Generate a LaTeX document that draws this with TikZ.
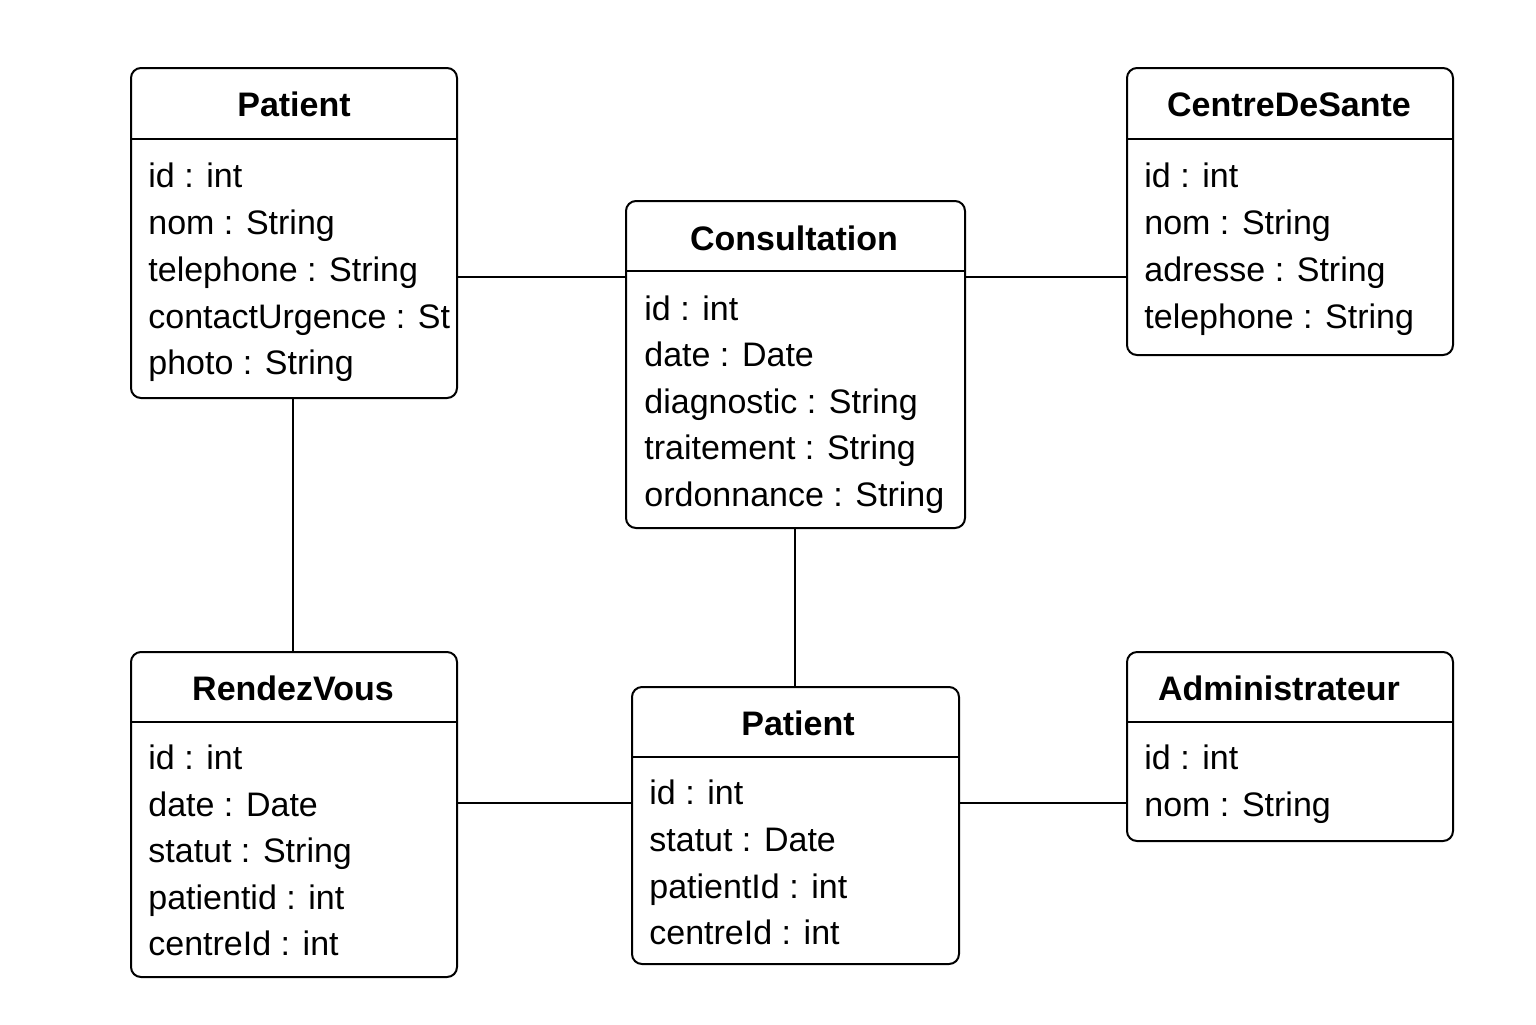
\documentclass[tikz,border=0pt]{standalone}
\usepackage{fontspec}
\setmainfont{Liberation Sans}
\begin{document}
\begin{tikzpicture}[x=0.5pt,y=-0.5pt,
  box/.style={draw, line width=1pt, rounded corners=5pt, inner sep=0pt, anchor=north west},
  divider/.style={line width=1pt},
  conn/.style={line width=1pt},
  ttl/.style={font=\fontsize{17}{19}\selectfont\bfseries, anchor=base, inner sep=0pt},
  attr/.style={font=\fontsize{17}{19}\selectfont, anchor=base west, inner sep=0pt}]
\useasboundingbox (0,0) rectangle (1536,1024);

% Patient (top-left)
\node[box, minimum width=163pt, minimum height=165pt] (pat) at (130,67) {};
\draw[divider] (130,139) -- (456,139);
\node[ttl] (patT) at (294,116) {Patient};
\node[attr] (pat1) at (148,187) {id : int};
\node[attr] (pat2) at (148,234) {nom : String};
\node[attr] (pat3) at (148,281) {telephone : String};
\node[attr] (pat4) at (148,328) {contactUrgence : St};
\node[attr] (pat5) at (148,374) {photo : String};

% CentreDeSante
\node[box, minimum width=163pt, minimum height=143.5pt] (cds) at (1126,67) {};
\draw[divider] (1126,139) -- (1452,139);
\node[ttl] (cdsT) at (1289,116) {CentreDeSante};
\node[attr] (cds1) at (1144,187) {id : int};
\node[attr] (cds2) at (1144,234) {nom : String};
\node[attr] (cds3) at (1144,281) {adresse : String};
\node[attr] (cds4) at (1144,328) {telephone : String};

% Consultation
\node[box, minimum width=169.5pt, minimum height=163.5pt] (con) at (625,200) {};
\draw[divider] (625,271) -- (964,271);
\node[ttl] (conT) at (794,250) {Consultation};
\node[attr] (con1) at (644,320) {id : int};
\node[attr] (con2) at (644,366) {date : Date};
\node[attr] (con3) at (644,413) {diagnostic : String};
\node[attr] (con4) at (644,459) {traitement : String};
\node[attr] (con5) at (644,506) {ordonnance : String};

% RendezVous
\node[box, minimum width=163pt, minimum height=162.5pt] (rdv) at (130,651) {};
\draw[divider] (130,722) -- (456,722);
\node[ttl] (rdvT) at (293,700) {RendezVous};
\node[attr] (rdv1) at (148,769) {id : int};
\node[attr] (rdv2) at (148,816) {date : Date};
\node[attr] (rdv3) at (148,862) {statut : String};
\node[attr] (rdv4) at (148,909) {patientid : int};
\node[attr] (rdv5) at (148,955) {centreId : int};

% Patient (bottom-middle)
\node[box, minimum width=163.5pt, minimum height=138.5pt] (pat2b) at (631,686) {};
\draw[divider] (631,757) -- (958,757);
\node[ttl] (pbT) at (798,735) {Patient};
\node[attr] (pb1) at (649,804) {id : int};
\node[attr] (pb2) at (649,851) {statut : Date};
\node[attr] (pb3) at (649,898) {patientId : int};
\node[attr] (pb4) at (649,944) {centreId : int};

% Administrateur
\node[box, minimum width=163pt, minimum height=94.5pt] (adm) at (1126,651) {};
\draw[divider] (1126,722) -- (1452,722);
\node[ttl] (admT) at (1279,700) {Administrateur};
\node[attr] (adm1) at (1144,769) {id : int};
\node[attr] (adm2) at (1144,816) {nom : String};

% connectors
\coordinate (yA) at (0,277);
\coordinate (yB) at (0,803);
\coordinate (xA) at (293,0);
\coordinate (xB) at (795,0);
\draw[conn] (pat.east |- yA) -- (con.west |- yA);
\draw[conn] (con.east |- yA) -- (cds.west |- yA);
\draw[conn] (pat.south -| xA) -- (rdv.north -| xA);
\draw[conn] (con.south -| xB) -- (pat2b.north -| xB);
\draw[conn] (rdv.east |- yB) -- (pat2b.west |- yB);
\draw[conn] (pat2b.east |- yB) -- (adm.west |- yB);
\end{tikzpicture}
\end{document}
